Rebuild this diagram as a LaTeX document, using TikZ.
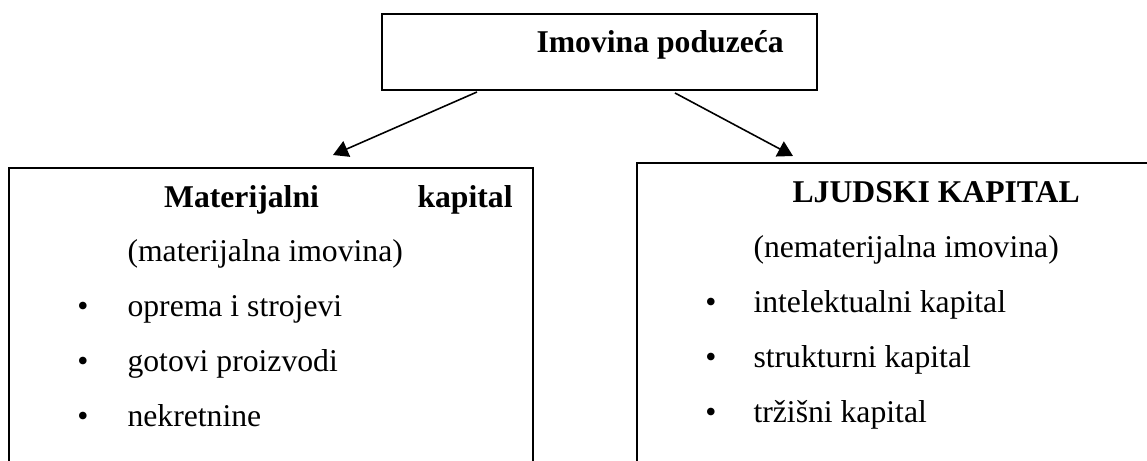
\documentclass[tikz,border=0pt]{standalone}
\usepackage{fontspec}
\setmainfont{Liberation Serif}
\usepackage{tikz}
\usetikzlibrary{arrows.meta}
\tikzset{
  okvir/.style={draw=black, line width=0.5pt},
  tekst/.style={inner sep=0pt, anchor=base west, font=\fontsize{12}{14}\selectfont},
  tocka/.style={inner sep=0pt, anchor=base, font=\fontsize{12}{14}\selectfont},
  strelica/.style={draw=black, line width=0.6pt, -{Triangle[length=5.7pt, width=6.4pt]}}
}
\newcommand{\naslov}[1]{{\bfseries #1}}

\begin{document}
\begin{tikzpicture}[x=0.3788pt, y=-0.3788pt]
        \clip (0,0) rectangle (1147,461);
        % okviri
        \draw [okvir] (382,14) rectangle (817,90);
        \draw [okvir] (9,168) rectangle (533,480);
        \draw [okvir] (637,163) rectangle (1180,480);
        \node [tekst] (imovina) at (536,53) {\naslov{Imovina poduzeća}};
        % materijalni kapital
        \node [tekst] (matkap) at (163.6,208) {\hbox to 132pt{\naslov{Materijalni}\hfill\naslov{kapital}}};
        \node [tekst] (matim) at (127,262) {(materijalna imovina)};
        \node [tocka] (b1) at (83,317) {\textbullet};
        \node [tekst] (oprema) at (127,317) {oprema i strojevi};
        \node [tocka] (b2) at (83,372) {\textbullet};
        \node [tekst] (gotovi) at (127,372) {gotovi proizvodi};
        \node [tocka] (b3) at (83,427) {\textbullet};
        \node [tekst] (nekret) at (127,427) {nekretnine};
        % ljudski kapital
        \node [tekst] (ljkap) at (792,203) {\naslov{LJUDSKI KAPITAL}};
        \node [tekst] (nemim) at (753,258) {(nematerijalna imovina)};
        \node [tocka] (b4) at (711,313) {\textbullet};
        \node [tekst] (intel) at (753,313) {intelektualni kapital};
        \node [tocka] (b5) at (711,368) {\textbullet};
        \node [tekst] (strukt) at (753,368) {strukturni kapital};
        \node [tocka] (b6) at (711,423) {\textbullet};
        \node [tekst] (trzis) at (753,423) {tržišni kapital};
        % strelice
        \coordinate (odL) at (477,92);
        \coordinate (doL) at (333,155);
        \coordinate (odD) at (675,93);
        \coordinate (doD) at (793,156);
        \draw [strelica] (odL) -- (doL);
        \draw [strelica] (odD) -- (doD);
\end{tikzpicture}
\end{document}
